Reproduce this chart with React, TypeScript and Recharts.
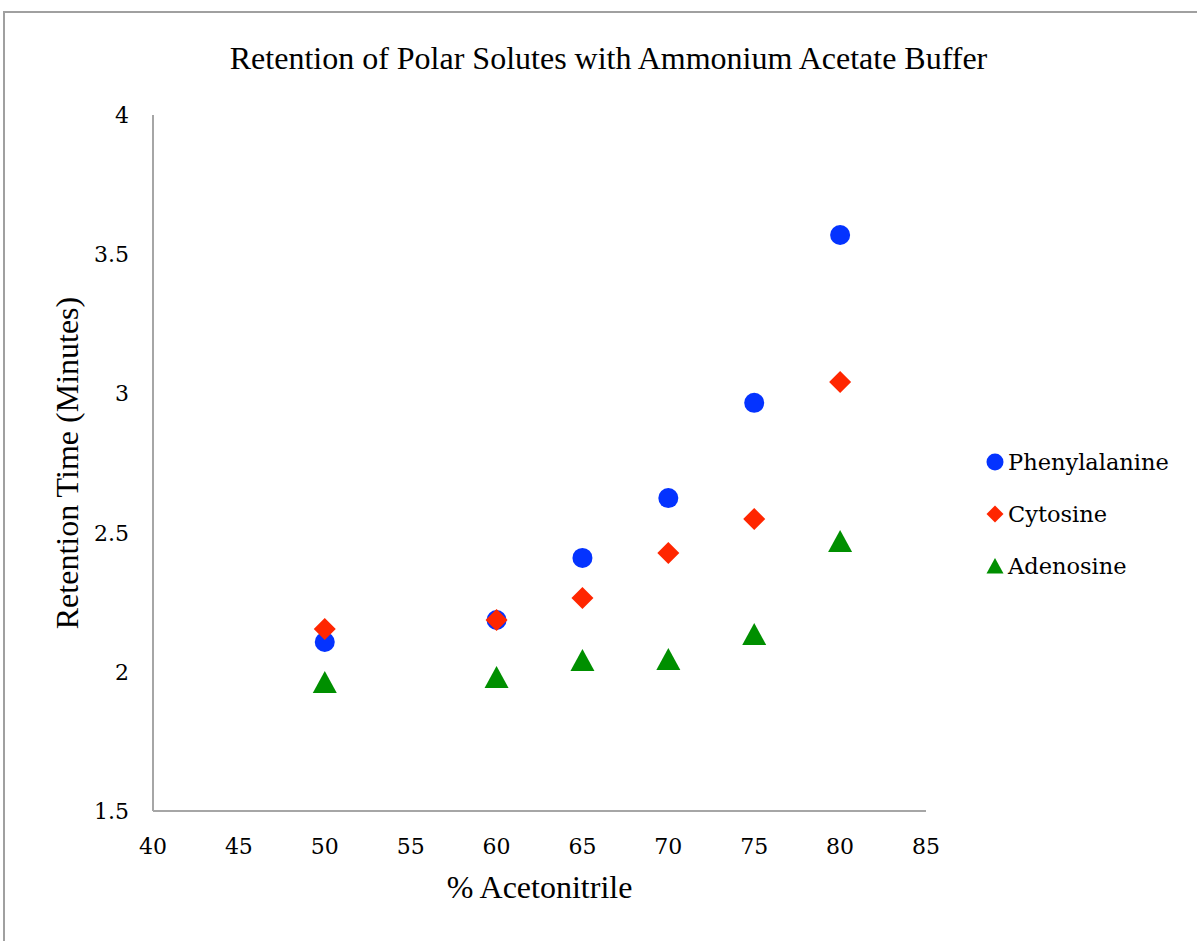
import React from "react";
import { ScatterChart, Scatter, XAxis, YAxis, Legend, Label } from "recharts";

const xValues = [50, 60, 65, 70, 75, 80];
const phenylalanine = [2.107, 2.186, 2.409, 2.624, 2.966, 3.569];
const cytosine = [2.154, 2.186, 2.265, 2.427, 2.549, 3.041];
const adenosine = [1.96, 1.978, 2.039, 2.042, 2.132, 2.466];
const xTicks = [40, 45, 50, 55, 60, 65, 70, 75, 80, 85];
const yTicks = [1.5, 2, 2.5, 3, 3.5, 4];

const BLUE = "#0433FF";
const RED = "#FF2600";
const GREEN = "#008F00";
const SERIF = "'Liberation Serif', 'Times New Roman', serif";
const TICK_FONT = "'DejaVu Serif', serif";

const toPoints = (ys: number[]) => xValues.map((x, i) => ({ x, y: ys[i] }));

const CircleShape = (p: any) => <circle cx={p.cx} cy={p.cy} r={10} fill={BLUE} />;
const DiamondShape = (p: any) => (
  <polygon
    points={`${p.cx},${p.cy - 11} ${p.cx + 11},${p.cy} ${p.cx},${p.cy + 11} ${p.cx - 11},${p.cy}`}
    fill={RED}
  />
);
const TriangleShape = (p: any) => (
  <polygon
    points={`${p.cx},${p.cy - 12} ${p.cx + 12},${p.cy + 10} ${p.cx - 12},${p.cy + 10}`}
    fill={GREEN}
  />
);

const legendItems = [
  { name: "Phenylalanine", color: BLUE, kind: "circle" },
  { name: "Cytosine", color: RED, kind: "diamond" },
  { name: "Adenosine", color: GREEN, kind: "triangle" },
];

const LegendContent = () => (
  <div style={{ fontFamily: TICK_FONT, fontSize: 22.5, color: "#000" }}>
    {legendItems.map((it) => (
      <div key={it.name} style={{ display: "flex", alignItems: "center", height: 52 }}>
        <svg width={20} height={20} style={{ marginRight: 3 }}>
          {it.kind === "circle" && <circle cx={10} cy={10} r={8.5} fill={it.color} />}
          {it.kind === "diamond" && <polygon points="10,1.5 18.5,10 10,18.5 1.5,10" fill={it.color} />}
          {it.kind === "triangle" && <polygon points="10,2 18.5,17.5 1.5,17.5" fill={it.color} />}
        </svg>
        <span>{it.name}</span>
      </div>
    ))}
  </div>
);

const XTick = (p: any) => (
  <text x={p.x} y={p.y + 35} textAnchor="middle" fontFamily={TICK_FONT} fontSize={22} fill="#000">
    {p.payload.value}
  </text>
);
const YTick = (p: any) => (
  <text x={p.x - 16} y={p.y + 8} textAnchor="end" fontFamily={TICK_FONT} fontSize={22} fill="#000">
    {p.payload.value}
  </text>
);

export default function App() {
  return (
    <div style={{ position: "absolute", left: 0, top: 0, width: 1197, height: 941, background: "#fff" }}>
      <div
        style={{
          position: "absolute",
          left: 3,
          top: 11,
          right: 0,
          bottom: 0,
          borderTop: "2px solid #A0A0A0",
          borderLeft: "2px solid #A0A0A0",
        }}
      />
      <div
        style={{
          position: "absolute",
          left: 0,
          width: 1217,
          top: 40,
          textAlign: "center",
          fontFamily: SERIF,
          fontSize: 32,
          color: "#000",
        }}
      >
        Retention of Polar Solutes with Ammonium Acetate Buffer
      </div>
      <div style={{ position: "absolute", left: 0, top: 0 }}>
        <ScatterChart width={1197} height={941} margin={{ top: 115, right: 71, bottom: 80, left: 93 }}>
          <XAxis
            type="number"
            dataKey="x"
            domain={[40, 85]}
            ticks={xTicks}
            interval={0}
            tickLine={false}
            axisLine={{ stroke: "#A6A6A6", strokeWidth: 2 }}
            tick={<XTick />}
            height={50}
          >
            <Label
              value="% Acetonitrile"
              position="bottom"
              offset={14}
              style={{ fontFamily: SERIF, fontSize: 32, fill: "#000" }}
            />
          </XAxis>
          <YAxis
            type="number"
            dataKey="y"
            domain={[1.5, 4]}
            ticks={yTicks}
            interval={0}
            tickLine={false}
            axisLine={{ stroke: "#A6A6A6", strokeWidth: 2 }}
            tick={<YTick />}
            width={60}
          >
            <Label
              value="Retention Time (Minutes)"
              angle={-90}
              position="left"
              offset={26}
              style={{ fontFamily: SERIF, fontSize: 32, fill: "#000", textAnchor: "middle" }}
            />
          </YAxis>
          <Legend
            layout="vertical"
            align="right"
            verticalAlign="top"
            content={<LegendContent />}
            wrapperStyle={{ left: 985, top: 436, width: 200 }}
          />
          <Scatter name="Phenylalanine" data={toPoints(phenylalanine)} shape={CircleShape} isAnimationActive={false} />
          <Scatter name="Cytosine" data={toPoints(cytosine)} shape={DiamondShape} isAnimationActive={false} />
          <Scatter name="Adenosine" data={toPoints(adenosine)} shape={TriangleShape} isAnimationActive={false} />
        </ScatterChart>
      </div>
    </div>
  );
}
